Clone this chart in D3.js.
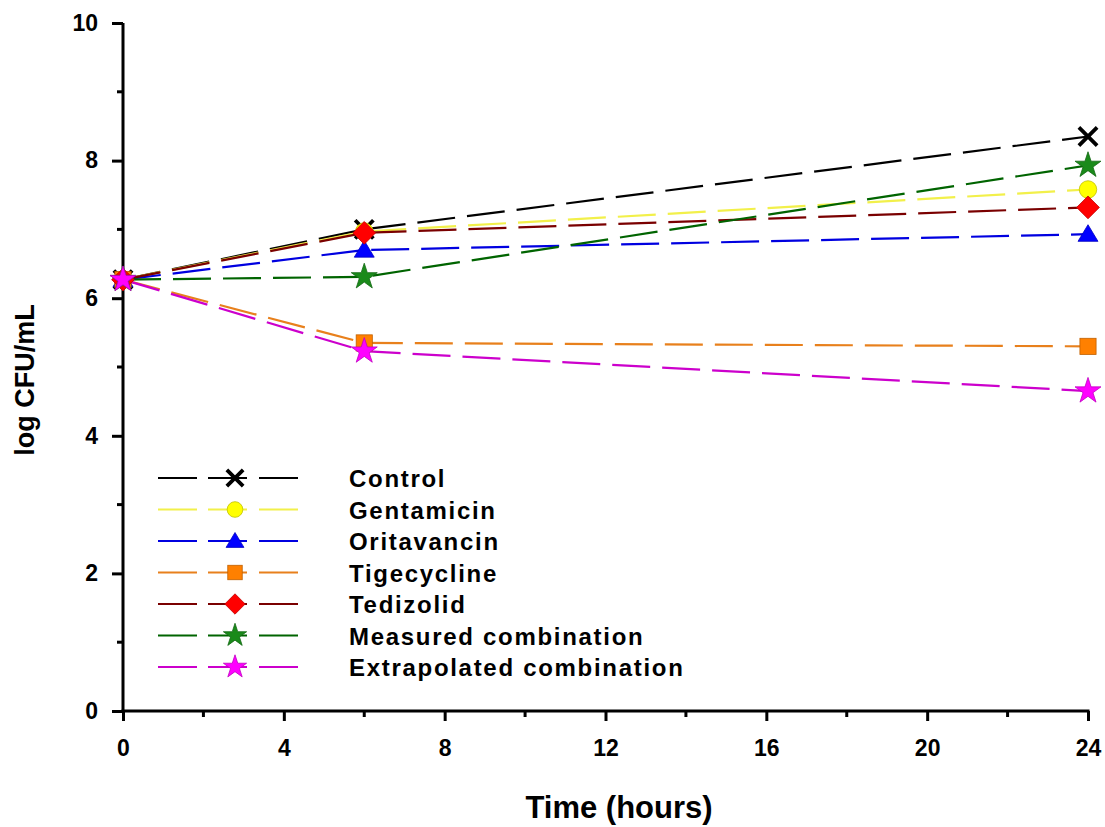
<!DOCTYPE html>
<html>
<head>
<meta charset="utf-8">
<script src="https://cdn.jsdelivr.net/npm/d3@7"></script>
<style>
  body { margin: 0; background: #fff; }
  text { font-family: Arial, "Liberation Sans", sans-serif; font-weight: bold; }
</style>
</head>
<body>
<div id="vis"></div>
<script>
// sampling times (hours)
var times = [0, 6, 24];

var seriesNames = ["Control", "Gentamicin", "Oritavancin", "Tigecycline", "Tedizolid",
                   "Measured combination", "Extrapolated combination"];

// log CFU/mL at each time point
var control      = [6.27, 7.00, 8.35];
var gentamicin   = [6.27, 6.97, 7.58];
var oritavancin  = [6.27, 6.70, 6.93];
var tigecycline  = [6.27, 5.35, 5.30];
var tedizolid    = [6.27, 6.95, 7.32];
var measuredComb = [6.27, 6.31, 7.93];
var extrapComb   = [6.27, 5.23, 4.65];

var xTicks = [0, 4, 8, 12, 16, 20, 24];
var yTicks = [0, 2, 4, 6, 8, 10];
var xMinor = [2, 6, 10, 14, 18, 22];
var yMinor = [1, 3, 5, 7, 9];

var styles = [
  { line: "#000000", fill: "#000000", symbol: "cross" },
  { line: "#f2f04a", fill: "#ffff00", symbol: "circle" },
  { line: "#0000e0", fill: "#0000ff", symbol: "triangle" },
  { line: "#e8801c", fill: "#ff8000", symbol: "square" },
  { line: "#7a0000", fill: "#ff0000", symbol: "diamond" },
  { line: "#006400", fill: "#1a8a1a", symbol: "star" },
  { line: "#cc00cc", fill: "#ff00ff", symbol: "star" }
];

var values = [control, gentamicin, oritavancin, tigecycline, tedizolid, measuredComb, extrapComb];
var series = seriesNames.map(function(n, i) {
  return { name: n, style: styles[i], points: times.map(function(t, j) { return { t: t, v: values[i][j] }; }) };
});

var width = 1105, height = 827;
var scales = {
  time: d3.scaleLinear().domain([0, 24]).range([123, 1088]),
  cfu: d3.scaleLinear().domain([0, 10]).range([711, 23])
};

var svg = d3.select("#vis").append("svg")
  .attr("width", width)
  .attr("height", height);

function marker(sel, style, size) {
  var h = size / 2;
  if (style.symbol === "cross") {
    var c = size * 0.48;
    sel.append("path")
      .attr("d", "M" + (-c) + "," + (-c) + "L" + c + "," + c + "M" + (-c) + "," + c + "L" + c + "," + (-c))
      .attr("stroke", style.fill)
      .attr("stroke-width", 3.8)
      .attr("fill", "none");
    return;
  }
  var p;
  if (style.symbol === "diamond") {
    var k = h * 1.2;
    p = sel.append("path").attr("d", "M0," + (-k) + "L" + k + ",0L0," + k + "L" + (-k) + ",0Z");
  } else if (style.symbol === "square") {
    p = sel.append("rect").attr("x", -h * 0.85).attr("y", -h * 0.85).attr("width", h * 1.7).attr("height", h * 1.7);
  } else if (style.symbol === "triangle") {
    p = sel.append("path").attr("d", "M0," + (-h) + "L" + (h * 1.05) + "," + (h * 0.75) + "L" + (-h * 1.05) + "," + (h * 0.75) + "Z");
  } else if (style.symbol === "circle") {
    p = sel.append("circle").attr("r", h * 0.92);
  } else {
    p = sel.append("path").attr("d", d3.symbol().type(d3.symbolStar).size(0.58 * size * size)());
  }
  p.attr("fill", style.fill)
    .attr("stroke", d3.color(style.fill).darker(0.8))
    .attr("stroke-width", 0.8);
}

// axes
var xAxis = d3.axisBottom(scales.time)
  .tickValues(xTicks)
  .tickSize(10)
  .tickSizeOuter(0)
  .tickPadding(19);
var gx = svg.append("g")
  .attr("class", "x_axis")
  .attr("transform", "translate(0," + scales.cfu(0) + ")")
  .call(xAxis);

var yAxis = d3.axisLeft(scales.cfu)
  .tickValues(yTicks)
  .tickSize(11)
  .tickSizeOuter(0)
  .tickPadding(14);
var gy = svg.append("g")
  .attr("class", "y_axis")
  .attr("transform", "translate(" + scales.time(0) + ",0)")
  .call(yAxis);

[gx, gy].forEach(function(g) {
  g.select(".domain").attr("stroke", "#000").attr("stroke-width", 3);
  g.selectAll(".tick line").attr("stroke", "#000").attr("stroke-width", 3);
  g.selectAll(".tick text").attr("fill", "#000").style("font-size", "23px");
});
gx.select(".domain").attr("d", "M" + (scales.time(0) - 1.5) + ",0H" + (scales.time(24) + 1.5));
gy.select(".domain").attr("d", "M0," + (scales.cfu(0) + 1.5) + "V" + scales.cfu(10));

svg.selectAll(".xminor")
  .data(xMinor)
  .enter()
  .append("line")
  .attr("class", "xminor")
  .attr("x1", function(d) { return scales.time(d); })
  .attr("x2", function(d) { return scales.time(d); })
  .attr("y1", scales.cfu(0))
  .attr("y2", scales.cfu(0) + 6)
  .attr("stroke", "#000")
  .attr("stroke-width", 3);
svg.selectAll(".yminor")
  .data(yMinor)
  .enter()
  .append("line")
  .attr("class", "yminor")
  .attr("x1", scales.time(0))
  .attr("x2", scales.time(0) - 6)
  .attr("y1", function(d) { return scales.cfu(d); })
  .attr("y2", function(d) { return scales.cfu(d); })
  .attr("stroke", "#000")
  .attr("stroke-width", 3);

// axis titles
svg.append("text")
  .attr("x", 619)
  .attr("y", 818)
  .attr("text-anchor", "middle")
  .style("font-size", "31px")
  .text("Time (hours)");
svg.append("text")
  .attr("transform", "translate(34,380)rotate(-90)")
  .attr("text-anchor", "middle")
  .style("font-size", "27px")
  .text("log CFU/mL");

// series lines
var line = d3.line()
  .x(function(d) { return scales.time(d.t); })
  .y(function(d) { return scales.cfu(d.v); });

svg.selectAll(".series")
  .data(series)
  .enter()
  .append("path")
  .attr("class", "series")
  .attr("d", function(d) { return line(d.points); })
  .attr("fill", "none")
  .attr("stroke", function(d) { return d.style.line; })
  .attr("stroke-width", 2.2)
  .attr("stroke-dasharray", "38,12");

// markers
series.forEach(function(s) {
  s.points.forEach(function(p) {
    var g = svg.append("g")
      .attr("transform", "translate(" + scales.time(p.t) + "," + scales.cfu(p.v) + ")");
    marker(g, s.style, 19);
  });
});

// legend
var legend = svg.append("g").attr("class", "legend");
series.forEach(function(s, i) {
  var y = 478 + i * 31.5;
  var row = legend.append("g").attr("transform", "translate(0," + y + ")");
  [[158, 197], [208, 247], [259, 298]].forEach(function(seg) {
    row.append("line")
      .attr("x1", seg[0]).attr("x2", seg[1])
      .attr("y1", 0).attr("y2", 0)
      .attr("stroke", s.style.line)
      .attr("stroke-width", 2.2);
  });
  var m = row.append("g").attr("transform", "translate(235,0)");
  marker(m, s.style, 17);
  row.append("text")
    .attr("x", 349)
    .attr("y", 9)
    .style("font-size", "24px")
    .style("letter-spacing", "1.7px")
    .text(s.name);
});
</script>
</body>
</html>
